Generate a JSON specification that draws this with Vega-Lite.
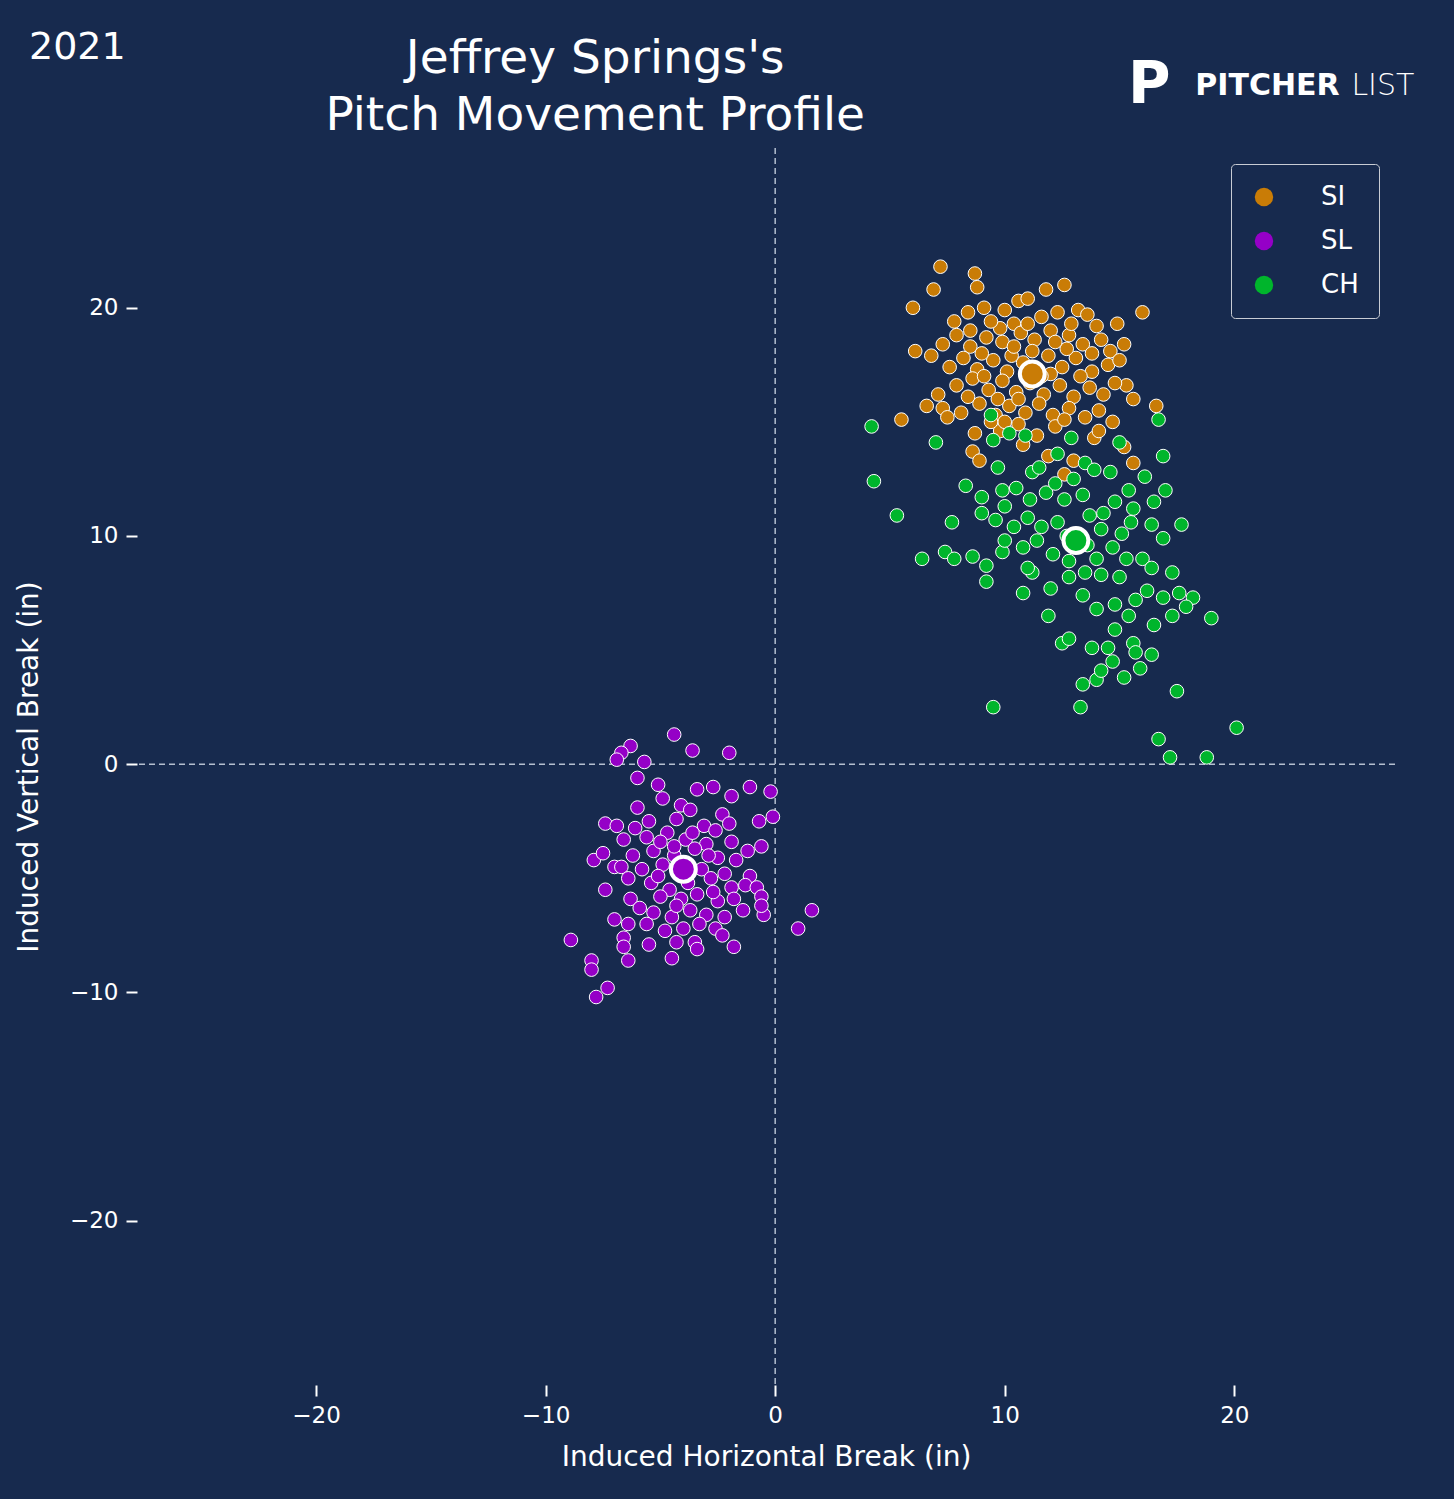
{
  "$schema": "https://vega.github.io/schema/vega-lite/v6.json",
  "width": 1258,
  "height": 1237,
  "padding": {"left": 137, "top": 148, "right": 59, "bottom": 114},
  "autosize": {"type": "none"},
  "background": "#172a4e",
  "config": {
    "view": {"stroke": null},
    "font": "DejaVu Sans",
    "axis": {"grid": false, "domain": false, "tickColor": "white", "tickSize": 11, "tickWidth": 2, "labelColor": "white", "labelFontSize": 23, "titleColor": "white", "titleFontSize": 28, "titleFontWeight": "normal", "labelPadding": 8}
  },
  "datasets": {
    "pitches": [
      {"h":7.2,"v":21.8,"p":"SI"},{"h":8.7,"v":21.5,"p":"SI"},{"h":6.9,"v":20.8,"p":"SI"},{"h":8.8,"v":20.9,"p":"SI"},{"h":6.0,"v":20.0,"p":"SI"},{"h":12.6,"v":21.0,"p":"SI"},{"h":11.8,"v":20.8,"p":"SI"},{"h":16.0,"v":19.8,"p":"SI"},{"h":14.9,"v":19.3,"p":"SI"},{"h":5.5,"v":15.1,"p":"SI"},{"h":6.1,"v":18.1,"p":"SI"},{"h":16.6,"v":15.7,"p":"SI"},{"h":15.6,"v":13.2,"p":"SI"},{"h":8.6,"v":13.7,"p":"SI"},{"h":8.9,"v":13.3,"p":"SI"},{"h":6.6,"v":15.7,"p":"SI"},{"h":7.3,"v":15.6,"p":"SI"},{"h":7.1,"v":16.2,"p":"SI"},{"h":15.2,"v":18.4,"p":"SI"},{"h":15.3,"v":16.6,"p":"SI"},{"h":15.6,"v":16.0,"p":"SI"},
      {"h":9.1,"v":20.0,"p":"SI"},{"h":10.6,"v":20.3,"p":"SI"},{"h":11.0,"v":20.4,"p":"SI"},{"h":13.2,"v":19.9,"p":"SI"},{"h":13.6,"v":19.7,"p":"SI"},{"h":7.8,"v":19.4,"p":"SI"},{"h":8.4,"v":19.8,"p":"SI"},{"h":9.8,"v":19.1,"p":"SI"},{"h":10.4,"v":19.3,"p":"SI"},{"h":11.6,"v":19.6,"p":"SI"},{"h":12.3,"v":19.8,"p":"SI"},{"h":7.3,"v":18.4,"p":"SI"},{"h":7.9,"v":18.8,"p":"SI"},{"h":8.5,"v":18.3,"p":"SI"},{"h":9.2,"v":18.7,"p":"SI"},{"h":9.9,"v":18.5,"p":"SI"},{"h":10.7,"v":18.9,"p":"SI"},{"h":11.3,"v":18.6,"p":"SI"},{"h":12.0,"v":19.0,"p":"SI"},{"h":12.8,"v":18.8,"p":"SI"},{"h":13.4,"v":18.4,"p":"SI"},{"h":14.2,"v":18.6,"p":"SI"},{"h":14.6,"v":18.1,"p":"SI"},{"h":6.8,"v":17.9,"p":"SI"},{"h":7.6,"v":17.4,"p":"SI"},{"h":8.2,"v":17.8,"p":"SI"},{"h":8.8,"v":17.3,"p":"SI"},{"h":9.5,"v":17.7,"p":"SI"},{"h":10.1,"v":17.2,"p":"SI"},{"h":10.8,"v":17.6,"p":"SI"},{"h":11.9,"v":17.9,"p":"SI"},{"h":12.5,"v":17.4,"p":"SI"},{"h":13.1,"v":17.8,"p":"SI"},{"h":13.8,"v":17.2,"p":"SI"},{"h":14.5,"v":17.5,"p":"SI"},{"h":15.0,"v":17.7,"p":"SI"},{"h":7.9,"v":16.6,"p":"SI"},{"h":8.6,"v":16.9,"p":"SI"},{"h":9.3,"v":16.4,"p":"SI"},{"h":9.9,"v":16.8,"p":"SI"},{"h":10.5,"v":16.3,"p":"SI"},{"h":11.1,"v":16.7,"p":"SI"},{"h":11.7,"v":16.2,"p":"SI"},{"h":12.4,"v":16.6,"p":"SI"},{"h":13.0,"v":16.1,"p":"SI"},{"h":13.7,"v":16.5,"p":"SI"},{"h":14.3,"v":16.2,"p":"SI"},{"h":14.8,"v":16.7,"p":"SI"},{"h":7.5,"v":15.2,"p":"SI"},{"h":8.1,"v":15.4,"p":"SI"},{"h":8.9,"v":15.8,"p":"SI"},{"h":9.6,"v":15.3,"p":"SI"},{"h":10.2,"v":15.7,"p":"SI"},{"h":10.9,"v":15.4,"p":"SI"},{"h":11.5,"v":15.8,"p":"SI"},{"h":12.1,"v":15.3,"p":"SI"},{"h":12.8,"v":15.6,"p":"SI"},{"h":13.5,"v":15.2,"p":"SI"},{"h":14.1,"v":15.5,"p":"SI"},{"h":8.7,"v":14.5,"p":"SI"},{"h":9.8,"v":14.6,"p":"SI"},{"h":10.6,"v":14.9,"p":"SI"},{"h":11.4,"v":14.4,"p":"SI"},{"h":12.2,"v":14.8,"p":"SI"},{"h":13.9,"v":14.3,"p":"SI"},{"h":14.1,"v":14.6,"p":"SI"},{"h":10.8,"v":14.0,"p":"SI"},{"h":11.9,"v":13.5,"p":"SI"},{"h":13.0,"v":13.3,"p":"SI"},{"h":12.6,"v":12.7,"p":"SI"},{"h":10.0,"v":19.9,"p":"SI"},{"h":9.4,"v":19.4,"p":"SI"},{"h":11.2,"v":18.1,"p":"SI"},{"h":12.7,"v":18.2,"p":"SI"},{"h":9.0,"v":18.0,"p":"SI"},{"h":10.3,"v":17.9,"p":"SI"},{"h":13.3,"v":17.0,"p":"SI"},{"h":8.4,"v":16.1,"p":"SI"},{"h":9.7,"v":16.0,"p":"SI"},{"h":12.9,"v":19.3,"p":"SI"},{"h":14.0,"v":19.2,"p":"SI"},{"h":11.0,"v":19.3,"p":"SI"},{"h":12.0,"v":17.1,"p":"SI"},{"h":14.7,"v":15.0,"p":"SI"},{"h":10.0,"v":15.0,"p":"SI"},{"h":8.5,"v":19.0,"p":"SI"},{"h":15.2,"v":13.9,"p":"SI"},{"h":10.4,"v":18.3,"p":"SI"},{"h":11.6,"v":17.0,"p":"SI"},{"h":9.1,"v":17.0,"p":"SI"},{"h":12.2,"v":18.5,"p":"SI"},{"h":13.8,"v":18.0,"p":"SI"},{"h":10.6,"v":16.0,"p":"SI"},{"h":12.6,"v":15.1,"p":"SI"},{"h":9.4,"v":15.0,"p":"SI"},
      {"h":4.2,"v":14.8,"p":"CH"},{"h":4.3,"v":12.4,"p":"CH"},{"h":5.3,"v":10.9,"p":"CH"},{"h":6.4,"v":9.0,"p":"CH"},{"h":7.0,"v":14.1,"p":"CH"},{"h":7.7,"v":10.6,"p":"CH"},{"h":7.4,"v":9.3,"p":"CH"},{"h":7.8,"v":9.0,"p":"CH"},{"h":9.5,"v":2.5,"p":"CH"},{"h":13.3,"v":2.5,"p":"CH"},{"h":16.7,"v":1.1,"p":"CH"},{"h":17.2,"v":0.3,"p":"CH"},{"h":18.8,"v":0.3,"p":"CH"},{"h":20.1,"v":1.6,"p":"CH"},{"h":19.0,"v":6.4,"p":"CH"},{"h":18.2,"v":7.3,"p":"CH"},{"h":17.5,"v":3.2,"p":"CH"},{"h":17.7,"v":10.5,"p":"CH"},{"h":16.9,"v":13.5,"p":"CH"},{"h":16.7,"v":15.1,"p":"CH"},{"h":17.0,"v":12.0,"p":"CH"},{"h":15.0,"v":14.1,"p":"CH"},{"h":12.5,"v":5.3,"p":"CH"},{"h":13.4,"v":3.5,"p":"CH"},{"h":14.0,"v":3.7,"p":"CH"},{"h":15.2,"v":3.8,"p":"CH"},{"h":16.4,"v":4.8,"p":"CH"},{"h":15.9,"v":4.2,"p":"CH"},
      {"h":9.4,"v":15.3,"p":"CH"},{"h":9.5,"v":14.2,"p":"CH"},{"h":10.9,"v":14.4,"p":"CH"},{"h":12.9,"v":14.3,"p":"CH"},{"h":9.7,"v":13.0,"p":"CH"},{"h":10.5,"v":12.1,"p":"CH"},{"h":11.2,"v":12.8,"p":"CH"},{"h":12.3,"v":13.6,"p":"CH"},{"h":13.5,"v":13.2,"p":"CH"},{"h":14.6,"v":12.8,"p":"CH"},{"h":15.4,"v":12.0,"p":"CH"},{"h":16.1,"v":12.6,"p":"CH"},{"h":8.3,"v":12.2,"p":"CH"},{"h":9.0,"v":11.7,"p":"CH"},{"h":10.0,"v":11.3,"p":"CH"},{"h":11.1,"v":11.6,"p":"CH"},{"h":11.8,"v":11.9,"p":"CH"},{"h":12.6,"v":11.6,"p":"CH"},{"h":13.4,"v":11.8,"p":"CH"},{"h":14.8,"v":11.5,"p":"CH"},{"h":15.6,"v":11.2,"p":"CH"},{"h":16.5,"v":11.5,"p":"CH"},{"h":9.6,"v":10.7,"p":"CH"},{"h":10.4,"v":10.4,"p":"CH"},{"h":11.0,"v":10.8,"p":"CH"},{"h":11.6,"v":10.4,"p":"CH"},{"h":12.3,"v":10.6,"p":"CH"},{"h":13.7,"v":10.9,"p":"CH"},{"h":14.2,"v":10.3,"p":"CH"},{"h":15.1,"v":10.1,"p":"CH"},{"h":16.4,"v":10.5,"p":"CH"},{"h":16.9,"v":9.9,"p":"CH"},{"h":8.6,"v":9.1,"p":"CH"},{"h":9.2,"v":8.7,"p":"CH"},{"h":9.9,"v":9.3,"p":"CH"},{"h":10.8,"v":9.5,"p":"CH"},{"h":11.4,"v":9.8,"p":"CH"},{"h":12.1,"v":9.2,"p":"CH"},{"h":12.8,"v":8.9,"p":"CH"},{"h":14.0,"v":9.0,"p":"CH"},{"h":14.7,"v":9.5,"p":"CH"},{"h":15.3,"v":9.0,"p":"CH"},{"h":16.0,"v":9.0,"p":"CH"},{"h":9.2,"v":8.0,"p":"CH"},{"h":11.2,"v":8.4,"p":"CH"},{"h":12.0,"v":7.7,"p":"CH"},{"h":12.8,"v":8.2,"p":"CH"},{"h":13.5,"v":8.4,"p":"CH"},{"h":14.2,"v":8.3,"p":"CH"},{"h":15.0,"v":8.2,"p":"CH"},{"h":16.4,"v":8.6,"p":"CH"},{"h":17.3,"v":8.4,"p":"CH"},{"h":10.8,"v":7.5,"p":"CH"},{"h":13.4,"v":7.4,"p":"CH"},{"h":14.0,"v":6.8,"p":"CH"},{"h":14.8,"v":7.0,"p":"CH"},{"h":15.7,"v":7.2,"p":"CH"},{"h":16.2,"v":7.6,"p":"CH"},{"h":16.9,"v":7.3,"p":"CH"},{"h":17.6,"v":7.5,"p":"CH"},{"h":17.9,"v":6.9,"p":"CH"},{"h":11.9,"v":6.5,"p":"CH"},{"h":15.4,"v":6.5,"p":"CH"},{"h":16.5,"v":6.1,"p":"CH"},{"h":17.3,"v":6.5,"p":"CH"},{"h":14.8,"v":5.9,"p":"CH"},{"h":12.8,"v":5.5,"p":"CH"},{"h":13.8,"v":5.1,"p":"CH"},{"h":14.5,"v":5.1,"p":"CH"},{"h":15.6,"v":5.3,"p":"CH"},{"h":15.7,"v":4.9,"p":"CH"},{"h":14.2,"v":4.1,"p":"CH"},{"h":14.7,"v":4.5,"p":"CH"},{"h":9.0,"v":11.0,"p":"CH"},{"h":11.5,"v":13.0,"p":"CH"},{"h":13.0,"v":12.5,"p":"CH"},{"h":13.9,"v":12.9,"p":"CH"},{"h":10.2,"v":14.5,"p":"CH"},{"h":12.7,"v":10.0,"p":"CH"},{"h":13.6,"v":9.6,"p":"CH"},{"h":10.0,"v":9.8,"p":"CH"},{"h":9.9,"v":12.0,"p":"CH"},{"h":12.2,"v":12.3,"p":"CH"},{"h":14.3,"v":11.0,"p":"CH"},{"h":11.0,"v":8.6,"p":"CH"},{"h":15.5,"v":10.6,"p":"CH"},
      {"h":-6.3,"v":0.8,"p":"SL"},{"h":-6.7,"v":0.5,"p":"SL"},{"h":-6.9,"v":0.2,"p":"SL"},{"h":-5.7,"v":0.1,"p":"SL"},{"h":-4.4,"v":1.3,"p":"SL"},{"h":-3.6,"v":0.6,"p":"SL"},{"h":-2.0,"v":0.5,"p":"SL"},{"h":-0.2,"v":-1.2,"p":"SL"},{"h":-1.1,"v":-1.0,"p":"SL"},{"h":-8.9,"v":-7.7,"p":"SL"},{"h":-8.0,"v":-8.6,"p":"SL"},{"h":-8.0,"v":-9.0,"p":"SL"},{"h":-7.8,"v":-10.2,"p":"SL"},{"h":-7.3,"v":-9.8,"p":"SL"},{"h":-6.4,"v":-8.6,"p":"SL"},{"h":1.0,"v":-7.2,"p":"SL"},{"h":1.6,"v":-6.4,"p":"SL"},{"h":-0.5,"v":-6.6,"p":"SL"},{"h":-0.6,"v":-3.6,"p":"SL"},{"h":-0.1,"v":-2.3,"p":"SL"},{"h":-7.4,"v":-2.6,"p":"SL"},{"h":-7.9,"v":-4.2,"p":"SL"},{"h":-7.4,"v":-5.5,"p":"SL"},
      {"h":-6.0,"v":-0.6,"p":"SL"},{"h":-5.1,"v":-0.9,"p":"SL"},{"h":-3.4,"v":-1.1,"p":"SL"},{"h":-2.7,"v":-1.0,"p":"SL"},{"h":-1.9,"v":-1.4,"p":"SL"},{"h":-6.0,"v":-1.9,"p":"SL"},{"h":-4.9,"v":-1.5,"p":"SL"},{"h":-4.1,"v":-1.8,"p":"SL"},{"h":-3.7,"v":-2.0,"p":"SL"},{"h":-2.3,"v":-2.2,"p":"SL"},{"h":-6.9,"v":-2.7,"p":"SL"},{"h":-6.1,"v":-2.8,"p":"SL"},{"h":-5.5,"v":-2.5,"p":"SL"},{"h":-4.3,"v":-2.4,"p":"SL"},{"h":-3.1,"v":-2.7,"p":"SL"},{"h":-2.6,"v":-2.9,"p":"SL"},{"h":-0.7,"v":-2.5,"p":"SL"},{"h":-6.6,"v":-3.3,"p":"SL"},{"h":-5.6,"v":-3.2,"p":"SL"},{"h":-4.7,"v":-3.0,"p":"SL"},{"h":-3.9,"v":-3.3,"p":"SL"},{"h":-3.0,"v":-3.5,"p":"SL"},{"h":-1.9,"v":-3.4,"p":"SL"},{"h":-1.2,"v":-3.8,"p":"SL"},{"h":-7.5,"v":-3.9,"p":"SL"},{"h":-6.2,"v":-4.0,"p":"SL"},{"h":-5.3,"v":-3.8,"p":"SL"},{"h":-4.4,"v":-4.0,"p":"SL"},{"h":-3.5,"v":-3.7,"p":"SL"},{"h":-2.5,"v":-4.1,"p":"SL"},{"h":-1.7,"v":-4.2,"p":"SL"},{"h":-7.0,"v":-4.5,"p":"SL"},{"h":-6.7,"v":-4.5,"p":"SL"},{"h":-5.8,"v":-4.6,"p":"SL"},{"h":-4.9,"v":-4.4,"p":"SL"},{"h":-3.2,"v":-4.6,"p":"SL"},{"h":-2.2,"v":-4.8,"p":"SL"},{"h":-1.1,"v":-4.9,"p":"SL"},{"h":-6.4,"v":-5.0,"p":"SL"},{"h":-5.4,"v":-5.2,"p":"SL"},{"h":-4.6,"v":-5.5,"p":"SL"},{"h":-3.8,"v":-5.2,"p":"SL"},{"h":-2.8,"v":-5.0,"p":"SL"},{"h":-1.9,"v":-5.4,"p":"SL"},{"h":-1.3,"v":-5.3,"p":"SL"},{"h":-0.8,"v":-5.4,"p":"SL"},{"h":-0.6,"v":-5.8,"p":"SL"},{"h":-6.3,"v":-5.9,"p":"SL"},{"h":-5.0,"v":-5.8,"p":"SL"},{"h":-4.1,"v":-5.9,"p":"SL"},{"h":-3.4,"v":-5.7,"p":"SL"},{"h":-2.5,"v":-6.0,"p":"SL"},{"h":-1.8,"v":-5.9,"p":"SL"},{"h":-0.6,"v":-6.2,"p":"SL"},{"h":-5.9,"v":-6.3,"p":"SL"},{"h":-5.3,"v":-6.5,"p":"SL"},{"h":-4.5,"v":-6.7,"p":"SL"},{"h":-3.7,"v":-6.4,"p":"SL"},{"h":-3.0,"v":-6.6,"p":"SL"},{"h":-2.2,"v":-6.7,"p":"SL"},{"h":-1.4,"v":-6.4,"p":"SL"},{"h":-7.0,"v":-6.8,"p":"SL"},{"h":-6.4,"v":-7.0,"p":"SL"},{"h":-5.6,"v":-7.0,"p":"SL"},{"h":-4.8,"v":-7.3,"p":"SL"},{"h":-4.0,"v":-7.2,"p":"SL"},{"h":-3.3,"v":-7.0,"p":"SL"},{"h":-2.6,"v":-7.2,"p":"SL"},{"h":-6.6,"v":-7.6,"p":"SL"},{"h":-4.3,"v":-7.8,"p":"SL"},{"h":-3.5,"v":-7.8,"p":"SL"},{"h":-2.3,"v":-7.5,"p":"SL"},{"h":-1.8,"v":-8.0,"p":"SL"},{"h":-6.6,"v":-8.0,"p":"SL"},{"h":-5.5,"v":-7.9,"p":"SL"},{"h":-4.5,"v":-8.5,"p":"SL"},{"h":-3.4,"v":-8.1,"p":"SL"},{"h":-4.4,"v":-3.6,"p":"SL"},{"h":-2.9,"v":-4.0,"p":"SL"},{"h":-5.1,"v":-4.9,"p":"SL"},{"h":-4.0,"v":-4.8,"p":"SL"},{"h":-2.0,"v":-2.6,"p":"SL"},{"h":-3.6,"v":-3.0,"p":"SL"},{"h":-5.0,"v":-3.4,"p":"SL"},{"h":-2.7,"v":-5.6,"p":"SL"},{"h":-4.3,"v":-6.2,"p":"SL"}
    ],
    "means": [
      {"h":11.2,"v":17.1,"p":"SI"},{"h":13.1,"v":9.8,"p":"CH"},{"h":-4.0,"v":-4.6,"p":"SL"}
    ],
    "zero": [{"z":0}],
    "labels": [
      {"h":-30.4,"v":31.4,"t":"2021","s":38},
      {"h":-7.84,"v":30.9,"t":"Jeffrey Springs's","s":47},
      {"h":-7.84,"v":28.4,"t":"Pitch Movement Profile","s":47}
    ]
  },
  "layer": [
    {
      "data": {"name": "zero"},
      "mark": {"type": "rule", "color": "#b5bfd0", "strokeDash": [6, 4], "strokeWidth": 1.5},
      "encoding": {"x": {"datum": 0, "type": "quantitative"}}
    },
    {
      "data": {"name": "zero"},
      "mark": {"type": "rule", "color": "#b5bfd0", "strokeDash": [6, 4], "strokeWidth": 1.5},
      "encoding": {"y": {"datum": 0, "type": "quantitative"}}
    },
    {
      "data": {"name": "pitches"},
      "mark": {"type": "circle", "size": 185, "opacity": 1, "stroke": "white", "strokeWidth": 1},
      "encoding": {
        "x": {"field": "h", "type": "quantitative", "scale": {"domain": [-27.8, 27.0], "nice": false}, "axis": {"values": [-20, -10, 0, 10, 20], "title": "Induced Horizontal Break (in)", "titlePadding": 16}},
        "y": {"field": "v", "type": "quantitative", "scale": {"domain": [-27.2, 27.0], "nice": false}, "axis": {"values": [-20, -10, 0, 10, 20], "title": "Induced Vertical Break (in)", "titlePadding": 26}},
        "color": {"field": "p", "type": "nominal", "scale": {"domain": ["SI", "SL", "CH"], "range": ["#c97c06", "#9500c7", "#00b52c"]},
          "legend": {"title": null, "orient": "top-right", "offset": 16, "labelColor": "white", "labelFontSize": 26, "symbolType": "circle", "symbolSize": 340, "symbolStrokeWidth": 0, "rowPadding": 18, "labelOffset": 44, "padding": 20, "strokeColor": "#c8ccd4", "cornerRadius": 4, "fillColor": "#172a4e"}}
      }
    },
    {
      "data": {"name": "means"},
      "mark": {"type": "circle", "size": 620, "opacity": 1, "stroke": "white", "strokeWidth": 4},
      "encoding": {
        "x": {"field": "h", "type": "quantitative"},
        "y": {"field": "v", "type": "quantitative"},
        "color": {"field": "p", "type": "nominal", "legend": null}
      }
    },
    {
      "data": {"name": "labels"},
      "mark": {"type": "text", "color": "white", "align": "center", "baseline": "middle", "clip": false},
      "encoding": {"x": {"field": "h", "type": "quantitative"}, "y": {"field": "v", "type": "quantitative"}, "text": {"field": "t"}, "size": {"field": "s", "type": "quantitative", "scale": null}}
    },
    {
      "data": {"values": [{"h": 18.3, "v": 29.7, "t": "PITCHER"}]},
      "mark": {"type": "text", "color": "white", "fontSize": 30, "fontWeight": "bold", "align": "left"},
      "encoding": {"x": {"field": "h", "type": "quantitative"}, "y": {"field": "v", "type": "quantitative"}, "text": {"field": "t"}}
    },
    {
      "data": {"values": [{"h": 25.1, "v": 29.7, "t": "LIST"}]},
      "mark": {"type": "text", "color": "white", "fontSize": 30, "fontWeight": "lighter", "align": "left"},
      "encoding": {"x": {"field": "h", "type": "quantitative"}, "y": {"field": "v", "type": "quantitative"}, "text": {"field": "t"}}
    },
    {
      "data": {"values": [{"h": 16.3, "v": 29.7, "t": "P"}]},
      "mark": {"type": "text", "color": "white", "fontSize": 58, "fontWeight": "bold", "align": "center"},
      "encoding": {"x": {"field": "h", "type": "quantitative"}, "y": {"field": "v", "type": "quantitative"}, "text": {"field": "t"}}
    }
  ]
}
